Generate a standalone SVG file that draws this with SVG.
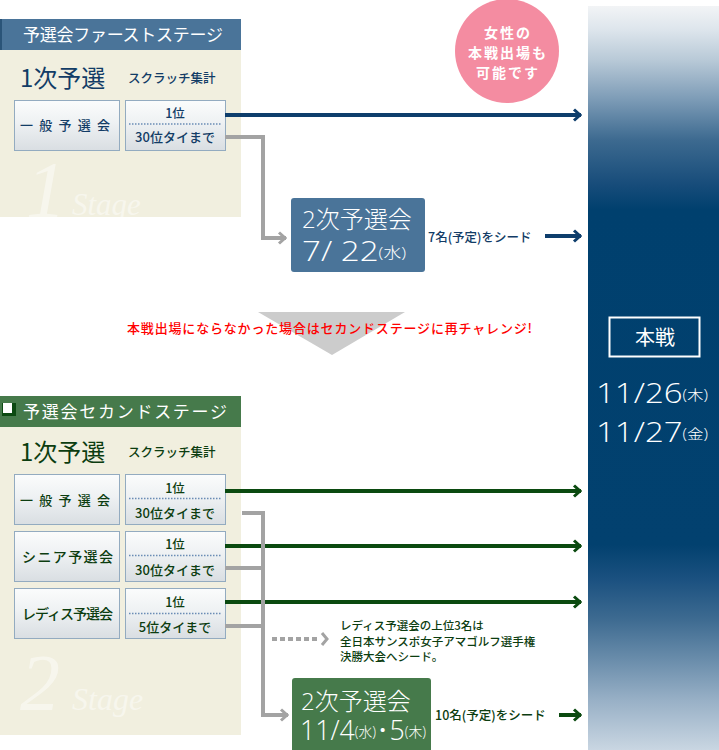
<svg xmlns="http://www.w3.org/2000/svg" width="719" height="750" viewBox="0 0 719 750">
<style>
.jp{font-family:"Noto Sans CJK JP","Noto Sans",sans-serif}
.sm{font-weight:500}
.num{font-family:"Open Sans","Noto Sans CJK JP",sans-serif;font-weight:300}
.hdr{font-size:17px;fill:#fff}
.b1{fill:#123c66}
.g1{fill:#0c3d10}
.btn{fill:url(#btnGrad);stroke:#93abc0;stroke-width:1}
.wm{font-family:"Liberation Serif",serif;font-style:italic;fill:#fff;fill-opacity:0.45}
.dot{stroke:#6a8cb5;stroke-width:1.5;stroke-dasharray:1.5 1.5}
.ln{fill:none;stroke-width:4}
.blue{stroke:#0e3e6c}
.green{stroke:#0b4a10}
.gray{stroke:#a3a3a3}
.wt{fill:#fff}
</style>
<defs>
<linearGradient id="btnGrad" x1="0" y1="0" x2="0" y2="1">
<stop offset="0" stop-color="#fbfcfc"/>
<stop offset="0.45" stop-color="#eef1f3"/>
<stop offset="1" stop-color="#d9dee2"/>
</linearGradient>
<linearGradient id="colGrad" gradientUnits="userSpaceOnUse" x1="0" y1="6" x2="0" y2="750">
<stop offset="0" stop-color="#f2f4f6"/>
<stop offset="0.032" stop-color="#dde5ec"/>
<stop offset="0.073" stop-color="#b8c9d7"/>
<stop offset="0.126" stop-color="#7c9bb6"/>
<stop offset="0.18" stop-color="#3d6a90"/>
<stop offset="0.24" stop-color="#174c7a"/>
<stop offset="0.274" stop-color="#00406e"/>
<stop offset="0.724" stop-color="#02416f"/>
<stop offset="0.771" stop-color="#1b5180"/>
<stop offset="0.825" stop-color="#3e6b91"/>
<stop offset="0.879" stop-color="#6a8dab"/>
<stop offset="0.933" stop-color="#98b0c6"/>
<stop offset="1" stop-color="#c9d6e2"/>
</linearGradient>
<marker id="ahBlue" viewBox="0 0 10 14" refX="9" refY="7" markerWidth="10" markerHeight="14" markerUnits="userSpaceOnUse" orient="auto">
<path d="M2,1.5 L8,7 L2,12.5" fill="none" stroke="#0e3e6c" stroke-width="3"/>
</marker>
<marker id="ahGreen" viewBox="0 0 10 14" refX="9" refY="7" markerWidth="10" markerHeight="14" markerUnits="userSpaceOnUse" orient="auto">
<path d="M2,1.5 L8,7 L2,12.5" fill="none" stroke="#0b4a10" stroke-width="3"/>
</marker>
<marker id="ahGray" viewBox="0 0 10 14" refX="9" refY="7" markerWidth="10" markerHeight="14" markerUnits="userSpaceOnUse" orient="auto">
<path d="M2,1.5 L8,7 L2,12.5" fill="none" stroke="#a3a3a3" stroke-width="3"/>
</marker>
<clipPath id="clip1"><rect x="0" y="50" width="241" height="167"/></clipPath>
<clipPath id="clip2"><rect x="0" y="427" width="241" height="308"/></clipPath>
</defs>

<rect width="719" height="750" fill="#fff"/>

<!-- Main tournament column -->
<g id="honsen">
<rect x="588" y="6" width="131" height="744" fill="url(#colGrad)"/>
<rect x="609.5" y="317.5" width="90" height="39" fill="none" stroke="#fff" stroke-width="2"/>
<text class="jp wt" x="655" y="345" font-size="20" text-anchor="middle">本戦</text>
<text class="num wt" x="596" y="403" font-size="28" textLength="112" lengthAdjust="spacingAndGlyphs">11/26<tspan font-size="14" dy="-3">(木)</tspan></text>
<text class="num wt" x="596" y="442" font-size="28" textLength="112" lengthAdjust="spacingAndGlyphs">11/27<tspan font-size="14" dy="-3">(金)</tspan></text>
</g>

<!-- Pink circle -->
<g id="note-women">
<circle cx="507" cy="51" r="52" fill="#f48ca1"/>
<text class="jp wt" x="508" y="38" font-size="14" font-weight="bold" text-anchor="middle" letter-spacing="2">女性の</text>
<text class="jp wt" x="508" y="58" font-size="14" font-weight="bold" text-anchor="middle" letter-spacing="2">本戦出場も</text>
<text class="jp wt" x="508" y="78" font-size="14" font-weight="bold" text-anchor="middle" letter-spacing="2">可能です</text>
</g>

<!-- First stage panel -->
<g id="stage1">
<rect x="0" y="19" width="241" height="31" fill="#4a7499"/>
<rect x="0" y="19" width="2" height="31" fill="#2a5478"/>
<text class="jp hdr" x="23" y="41" textLength="200">予選会ファーストステージ</text>
<rect x="0" y="50" width="241" height="167" fill="#f1efdf"/>
<g clip-path="url(#clip1)">
<text class="wm" x="26" y="217" font-size="80">1</text>
<text class="wm" x="72" y="215" font-size="31">Stage</text>
</g>
<text class="jp b1" x="20" y="87" font-size="24">1次予選</text>
<text class="jp sm b1" x="128" y="83" font-size="12.5">スクラッチ集計</text>
</g>

<g id="s1-ippan">
<rect class="btn" x="14.5" y="100.5" width="105" height="50"/>
<text class="jp sm b1" x="20" y="130" font-size="13" textLength="90">一 般 予 選 会</text>
</g>
<g id="s1-result">
<rect class="btn" x="125.5" y="100.5" width="100" height="50"/>
<text class="jp sm b1" x="175" y="118" font-size="12.5" text-anchor="middle">1位</text>
<line class="dot" x1="129" y1="124" x2="222" y2="124"/>
<text class="jp sm b1" x="175" y="142" font-size="13" text-anchor="middle">30位タイまで</text>
</g>

<g id="s1-niji">
<rect x="291" y="198" width="134" height="74" rx="3" fill="#4a7499"/>
<text class="num wt" x="302" y="228" font-size="24">2次予選会</text>
<text class="num wt" x="302" y="261" font-size="28" textLength="104" lengthAdjust="spacingAndGlyphs">7/ 22<tspan font-size="15" dy="-3">(水)</tspan></text>
</g>
<text class="jp sm b1" x="428" y="242" font-size="12.5">7名(予定)をシード</text>

<!-- Transition -->
<g id="transition">
<polygon points="258,312 405,312 332,355" fill="#cccccc"/>
<text class="jp" x="127" y="333" font-size="13" font-weight="500" fill="#ff0000" textLength="405">本戦出場にならなかった場合はセカンドステージに再チャレンジ!</text>
</g>

<!-- Second stage panel -->
<g id="stage2">
<rect x="0" y="396" width="241" height="31" fill="#467a4b"/>
<rect x="2" y="403" width="14" height="13" fill="#0c4a12"/>
<rect x="3" y="403" width="9" height="10" fill="#fff"/>
<text class="jp hdr" x="23" y="418" textLength="204">予選会セカンドステージ</text>
<rect x="0" y="427" width="241" height="308" fill="#f1efdf"/>
<g clip-path="url(#clip2)">
<text class="wm" x="20" y="710" font-size="80">2</text>
<text class="wm" x="72" y="710" font-size="32">Stage</text>
</g>
<text class="jp g1" x="20" y="461" font-size="24">1次予選</text>
<text class="jp sm g1" x="128" y="457" font-size="12.5">スクラッチ集計</text>
</g>

<g id="s2-ippan">
<rect class="btn" x="14.5" y="474.5" width="105" height="50"/>
<text class="jp sm g1" x="20" y="505" font-size="13" textLength="90">一 般 予 選 会</text>
</g>
<g id="s2-ippan-result">
<rect class="btn" x="125.5" y="474.5" width="100" height="50"/>
<text class="jp sm g1" x="175" y="493" font-size="12.5" text-anchor="middle">1位</text>
<line class="dot" x1="129" y1="498.5" x2="222" y2="498.5"/>
<text class="jp sm g1" x="175" y="518" font-size="13" text-anchor="middle">30位タイまで</text>
</g>

<g id="s2-senior">
<rect class="btn" x="14.5" y="531.5" width="105" height="50"/>
<text class="jp sm g1" x="22" y="562" font-size="14" textLength="91">シニア予選会</text>
</g>
<g id="s2-senior-result">
<rect class="btn" x="125.5" y="531.5" width="100" height="50"/>
<text class="jp sm g1" x="175" y="549" font-size="12.5" text-anchor="middle">1位</text>
<line class="dot" x1="129" y1="555.5" x2="222" y2="555.5"/>
<text class="jp sm g1" x="175" y="575" font-size="13" text-anchor="middle">30位タイまで</text>
</g>

<g id="s2-ladies">
<rect class="btn" x="14.5" y="588.5" width="105" height="50"/>
<text class="jp sm g1" x="22" y="619" font-size="14" textLength="91">レディス予選会</text>
</g>
<g id="s2-ladies-result">
<rect class="btn" x="125.5" y="588.5" width="100" height="50"/>
<text class="jp sm g1" x="175" y="607" font-size="12.5" text-anchor="middle">1位</text>
<line class="dot" x1="129" y1="613.5" x2="222" y2="613.5"/>
<text class="jp sm g1" x="175" y="632" font-size="13" text-anchor="middle">5位タイまで</text>
</g>

<g id="ladies-note">
<text class="jp sm g1" x="340" y="630" font-size="11.5">レディス予選会の上位3名は</text>
<text class="jp sm g1" x="340" y="646" font-size="11.5">全日本サンスポ女子アマゴルフ選手権</text>
<text class="jp sm g1" x="340" y="661" font-size="11.5">決勝大会へシード。</text>
</g>

<g id="s2-niji">
<rect x="292" y="678" width="139" height="80" rx="3" fill="#467a4b"/>
<text class="num wt" x="301" y="710" font-size="24">2次予選会</text>
<text class="num wt" x="300" y="740" font-size="27" textLength="126" lengthAdjust="spacingAndGlyphs">11/4<tspan font-size="14" dy="-3">(水)</tspan><tspan dy="3">･5</tspan><tspan font-size="14" dy="-3">(木)</tspan></text>
</g>
<text class="jp sm g1" x="435" y="720" font-size="12.5">10名(予定)をシード</text>

<!-- Connectors -->
<g id="connectors">
<line class="ln blue" x1="225" y1="115" x2="581" y2="115" marker-end="url(#ahBlue)"/>
<polyline class="ln gray" points="225,137 263,137 263,238 286,238" marker-end="url(#ahGray)"/>
<line class="ln blue" x1="545" y1="236" x2="581" y2="236" marker-end="url(#ahBlue)"/>

<line class="ln green" x1="225" y1="491" x2="581" y2="491" marker-end="url(#ahGreen)"/>
<line class="ln green" x1="225" y1="546" x2="581" y2="546" marker-end="url(#ahGreen)"/>
<line class="ln green" x1="225" y1="602" x2="581" y2="602" marker-end="url(#ahGreen)"/>
<polyline class="ln gray" points="242,513 263,513 263,715 288,715" marker-end="url(#ahGray)"/>
<line class="ln gray" x1="225" y1="568" x2="263" y2="568"/>
<line class="ln gray" x1="225" y1="626" x2="263" y2="626"/>
<line class="ln gray" x1="272" y1="639" x2="319" y2="639" stroke-dasharray="5 3"/>
<path d="M322,633 L327,639 L322,645" fill="none" stroke="#a3a3a3" stroke-width="3"/>
<line class="ln green" x1="559" y1="715" x2="581" y2="715" marker-end="url(#ahGreen)"/>
</g>
</svg>
